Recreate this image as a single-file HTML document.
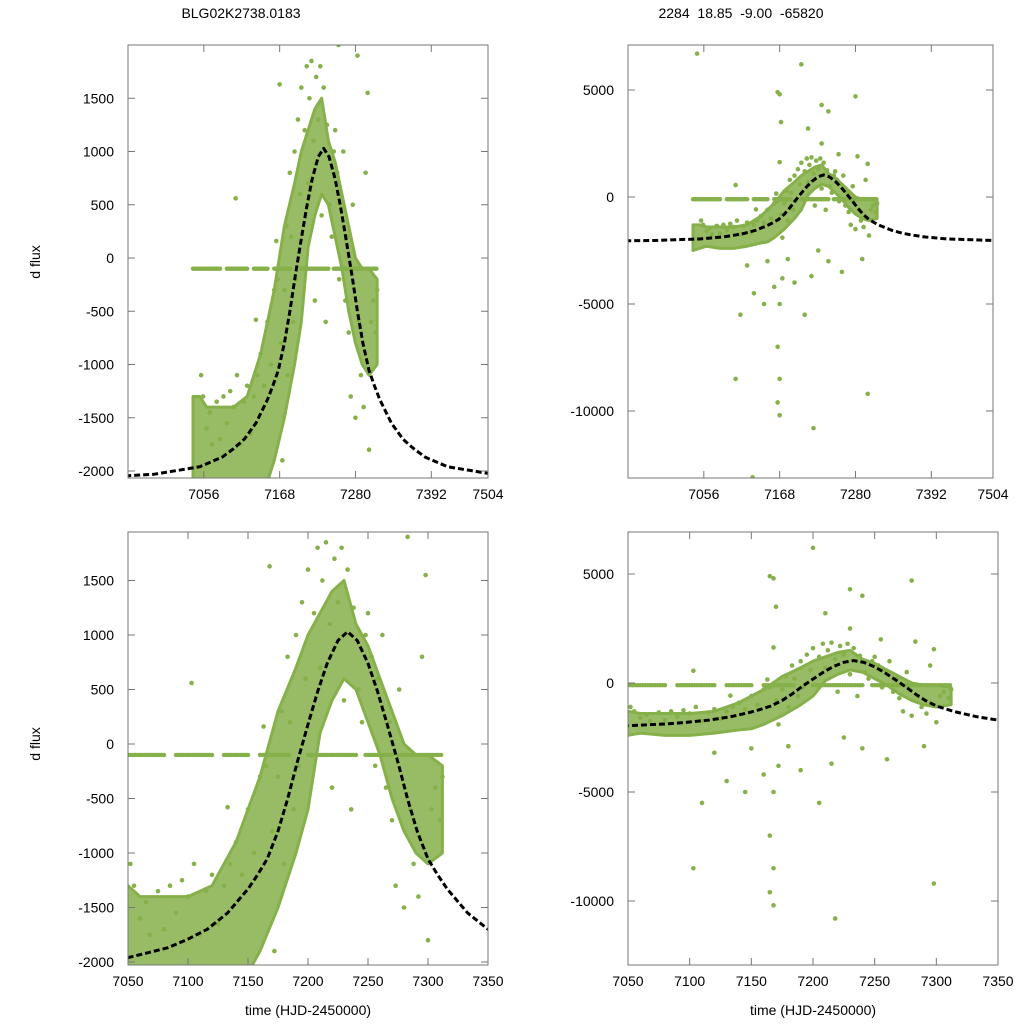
<!DOCTYPE html>
<html><head><meta charset="utf-8">
<style>
html,body{margin:0;background:#fff;overflow:hidden;width:1024px;height:1024px;}
svg{display:block;font-family:"Liberation Sans",sans-serif;overflow:hidden;}
</style></head>
<body>
<svg id="chart" width="1024" height="1024" viewBox="0 0 1024 1024">
<text x="241" y="18" font-size="14" text-anchor="middle">BLG02K2738.0183</text>
<text x="741" y="18" font-size="14" text-anchor="middle" xml:space="preserve">2284  18.85  -9.00  -65820</text>
<text transform="translate(40,262) rotate(-90)" font-size="14" text-anchor="middle">d flux</text>
<text transform="translate(40,744) rotate(-90)" font-size="14" text-anchor="middle">d flux</text>
<text x="308" y="1015" font-size="14" text-anchor="middle">time (HJD-2450000)</text>
<text x="813" y="1015" font-size="14" text-anchor="middle">time (HJD-2450000)</text>
</svg>
<script>
// dense data envelope
const bandT  = [7040,7050,7060,7080,7100,7120,7140,7150,7160,7175,7190,7200,7210,7220,7230,7240,7250,7260,7270,7280,7290,7300,7312];
const bandLo = [-2500,-2400,-2300,-2400,-2400,-2300,-2150,-2100,-1900,-1500,-1000,-600,100,400,600,500,200,-100,-500,-800,-1000,-1100,-1000];
const bandHi = [-1300,-1300,-1400,-1400,-1400,-1300,-900,-600,-300,300,700,1000,1200,1400,1500,1100,900,600,300,0,-100,-100,-200];
// flat row of points at constant flux
const flatStart = [7040,7090,7130,7160,7200,7248,7275];
const flatEnd   = [7080,7120,7150,7185,7240,7270,7312];
const flatFlux = -100;
// scattered points
const outT = [7052,7055,7060,7065,7068,7075,7080,7085,7090,7095,7100,7103,7105,7110,7115,7120,7125,7130,7133,7135,7140,7145,7150,7155,7160,7163,7165,7168,7170,7172,7175,7178,7180,7183,7185,7188,7190,7192,7195,7198,7200,7203,7205,7208,7210,7212,7215,7218,7220,7222,7225,7228,7230,7233,7236,7238,7242,7245,7248,7250,7253,7256,7258,7262,7265,7268,7270,7273,7276,7280,7283,7285,7288,7292,7295,7298,7300,7303,7306,7310,7312,
7046,7200,7165,7168,7280,7170,7210,7230,7255,7230,7240,7103,7165,7168,7165,7168,7168,7172,7218,7298,7128,7110,7145,7190,7205,7215,7130,7150,7160,7180,7225,7240,7260,7290,7120];
const outF = [-1100,-1300,-1600,-1450,-1750,-1350,-1700,-1300,-1550,-1250,-1400,560,-1100,-1750,-1350,-1200,-1650,-1300,-580,-1100,-900,-1200,-600,-1000,-300,160,-200,1630,-800,-1900,-300,300,-1100,800,200,-600,1000,-200,1300,600,1600,-100,1200,1800,700,1500,1850,1100,-400,1700,1300,1800,400,1600,-600,1250,500,200,1000,1200,800,-200,600,1000,-400,200,-700,-1300,500,-1500,1900,-600,-1100,-1400,800,1550,-1800,-600,-400,-700,-300,
6700,6200,4900,4800,4700,3500,3200,2500,2000,4300,4000,-8500,-7000,-8500,-9600,-10200,-5000,-3800,-10800,-9200,-13100,-5500,-5000,-4000,-5500,-3700,-4500,-3000,-4200,-2900,-2500,-3000,-3500,-2900,-3200];
// model curve
const curveT = [6900,6983,7050,7083,7100,7116,7133,7150,7158,7166,7175,7183,7191,7200,7208,7216,7225,7233,7241,7250,7258,7266,7275,7283,7291,7300,7308,7316,7333,7350,7366,7383,7416,7483,7563];
const curveF = [-2060,-2030,-1960,-1870,-1790,-1700,-1550,-1330,-1200,-1055,-800,-505,-170,180,480,740,950,1030,950,740,480,180,-170,-505,-800,-1055,-1200,-1330,-1550,-1700,-1790,-1870,-1960,-2030,-2060];

const panels = [
 {id:'top-left', x0:128,x1:488,y0:45,y1:478, tmin:6944,tpx:0.677, f0:258,fpx:0.1065,
  xt:[7056,7168,7280,7392,7504], yt:[1500,1000,500,0,-500,-1000,-1500,-2000]},
 {id:'top-right',x0:628,x1:993,y0:45,y1:478, tmin:6944,tpx:0.677, f0:197,fpx:0.0214,
  xt:[7056,7168,7280,7392,7504], yt:[5000,0,-5000,-10000]},
 {id:'bottom-left',x0:128,x1:488,y0:532,y1:965, tmin:7050,tpx:1.2, f0:744,fpx:0.109,
  xt:[7050,7100,7150,7200,7250,7300,7350], yt:[1500,1000,500,0,-500,-1000,-1500,-2000]},
 {id:'bottom-right',x0:628,x1:998,y0:532,y1:965, tmin:7050,tpx:370/300, f0:683,fpx:0.0218,
  xt:[7050,7100,7150,7200,7250,7300,7350], yt:[5000,0,-5000,-10000]}
];
const NS='http://www.w3.org/2000/svg';
const svg=document.getElementById('chart');
function mk(tag,attrs,parent){const e=document.createElementNS(NS,tag);for(const k in attrs)e.setAttribute(k,attrs[k]);(parent||svg).appendChild(e);return e;}
const G='#86b04a';
panels.forEach((p,pi)=>{
  const X=t=>p.x0+(t-p.tmin)*p.tpx;
  const Y=f=>p.f0-f*p.fpx;
  const cp=mk('clipPath',{id:'clip'+pi});
  mk('rect',{x:p.x0,y:p.y0,width:p.x1-p.x0,height:p.y1-p.y0},cp);
  const g=mk('g',{'clip-path':'url(#clip'+pi+')'});
  
  
  let pts=bandT.map((t,i)=>X(t)+','+Y(bandHi[i]));
  for(let i=bandT.length-1;i>=0;i--)pts.push(X(bandT[i])+','+Y(bandLo[i]));
  const band=mk('polygon',{points:pts.join(' '),fill:G,'fill-opacity':0.85,stroke:G,'stroke-width':3,'stroke-linejoin':'round'},g);
  
  
  flatStart.forEach((s,i)=>{
    for(let t=s;t<=flatEnd[i];t+=2){
      const c=mk('circle',{cx:X(t),cy:Y(flatFlux),r:2.2,fill:G},g);
      
      
    }
  });
  outT.forEach((t,i)=>{
    const c=mk('circle',{cx:X(t),cy:Y(outF[i]),r:2.3,fill:G},g);
    
    
  });
  const line=mk('polyline',{points:curveT.map((t,i)=>X(t)+','+Y(curveF[i])).join(' '),fill:'none',stroke:'#000','stroke-width':3,'stroke-dasharray':'6,3','stroke-linejoin':'round'},g);
  
  
  const fr=mk('rect',{x:p.x0,y:p.y0,width:p.x1-p.x0,height:p.y1-p.y0,fill:'none',stroke:'#777','stroke-width':1});
  
  
  p.xt.forEach(t=>{
    const x=Math.min(X(t),p.x1);
    mk('line',{x1:x,x2:x,y1:p.y1,y2:p.y1-7,stroke:'#777'});
    mk('line',{x1:x,x2:x,y1:p.y0,y2:p.y0+7,stroke:'#777'});
    const tx=mk('text',{x:x,y:p.y1+21,'font-size':14,'text-anchor':'middle'});
    tx.textContent=t;
    
    
  });
  p.yt.forEach(f=>{
    const y=Y(f);
    mk('line',{x1:p.x0,x2:p.x0+7,y1:y,y2:y,stroke:'#777'});
    mk('line',{x1:p.x1,x2:p.x1-7,y1:y,y2:y,stroke:'#777'});
    const tx=mk('text',{x:p.x0-14,y:y+5,'font-size':14,'text-anchor':'end'});
    tx.textContent=f;
    
    
  });
});
</script>
</body></html>
